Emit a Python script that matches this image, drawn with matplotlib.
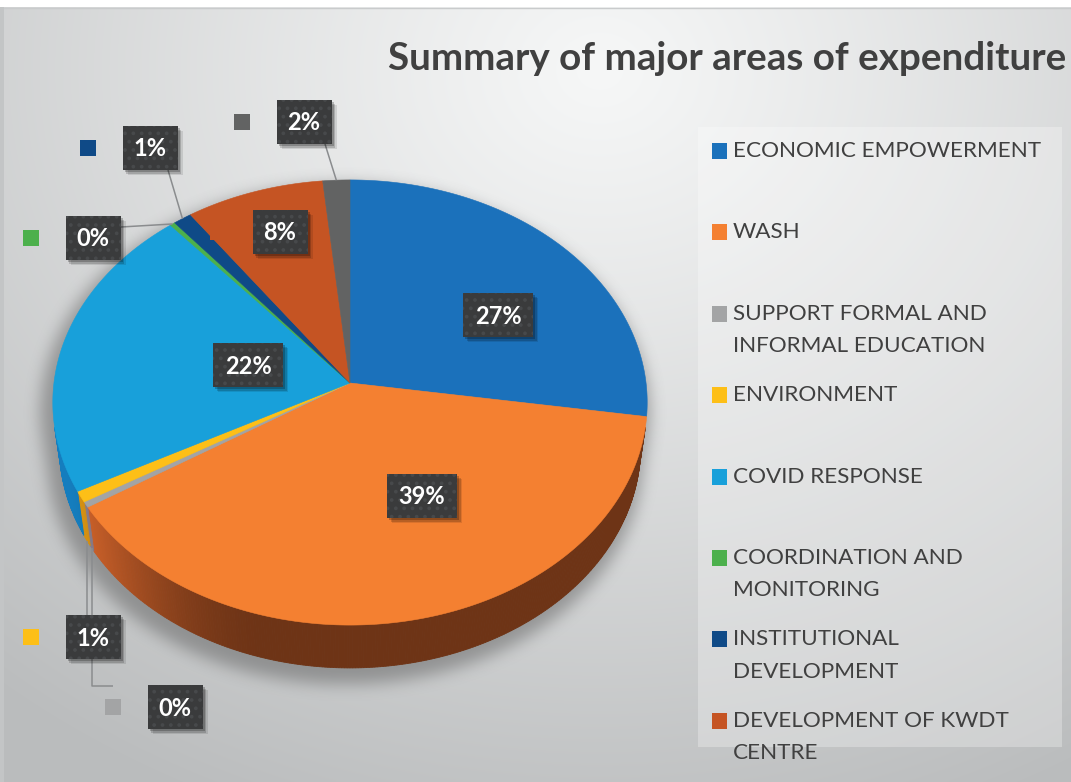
import numpy as np
import matplotlib
matplotlib.use("Agg")
import matplotlib.pyplot as plt
from matplotlib.patches import Polygon, Rectangle
from matplotlib.path import Path
from matplotlib.colors import to_rgb

plt.rcParams['font.family'] = ['Lato', 'DejaVu Sans']
plt.rcParams['hatch.linewidth'] = 1.5

# ---------------------------------------------------------------- data
title = "Summary of major areas of expenditure"
categories = [
    "ECONOMIC EMPOWERMENT",
    "WASH",
    "SUPPORT FORMAL AND\nINFORMAL EDUCATION",
    "ENVIRONMENT",
    "COVID RESPONSE",
    "COORDINATION AND\nMONITORING",
    "INSTITUTIONAL\nDEVELOPMENT",
    "DEVELOPMENT OF KWDT\nCENTRE",
    "OTHER",
]
shares = [27.4, 38.6, 0.4, 0.8, 21.6, 0.3, 1.1, 8.2, 1.6]
colors = ["#1b71bb", "#f48031", "#a3a4a5", "#fdbf17", "#18a0da",
          "#4cb04c", "#0f4a87", "#c55423", "#626363"]
legend_count = 8

# ---------------------------------------------------------------- layout
W, H = 1071, 782
fig = plt.figure(figsize=(W / 100, H / 100), dpi=100)
ax = fig.add_axes([0, 0, 1, 1])
ax.set_xlim(0, W)
ax.set_ylim(H, 0)
ax.axis("off")

# background: soft radial grey gradient
yy, xx = np.mgrid[0:H, 0:W] + 0.5
r = np.hypot((xx - 600) / 1.0, (yy - 70) / 0.85)
t = np.clip(r / 950, 0, 1) ** 1.1
inner = np.array([246, 247, 247]) / 255
outer = np.array([186, 188, 189]) / 255
bg = inner[None, None, :] * (1 - t[..., None]) + outer[None, None, :] * t[..., None]
ax.imshow(bg, extent=(0, W, H, 0), origin="upper", zorder=0, interpolation="bilinear")
ax.add_patch(Rectangle((0, 0), W, 7, facecolor="white", edgecolor="none", zorder=1))
ax.plot([0, W], [7.5, 7.5], color="#c9cbcc", lw=1, zorder=1)
ax.add_patch(Rectangle((0, 7), 4, H, facecolor="#c3c5c6", edgecolor="none", zorder=1))

# ---------------------------------------------------------------- 3D pie projection
CX, CY = 350.0, 383.0
FOC, DIST = 2250.0, 7.6
COSP, SINP = 0.666, 0.746
DEPTH = 0.231


def project(X, Y, Z):
    d = DIST + Y * COSP - Z * SINP
    return CX + FOC * X / d, CY - FOC * (Y * SINP + Z * COSP) / d


def rim(theta_deg, z=0.0, rr=1.0):
    th = np.radians(theta_deg)
    return project(rr * np.sin(th), rr * np.cos(th), z)


bounds = np.concatenate([[0], np.cumsum(shares)]) / np.sum(shares) * 360.0

# soft shadow under the pie
ring = np.linspace(0, 360, 361)
pts = np.array([rim(a, 0.0) for a in ring] + [rim(a, -DEPTH) for a in ring])


def convex_hull(p):
    p = sorted(map(tuple, p))

    def cross(o, a, b):
        return (a[0] - o[0]) * (b[1] - o[1]) - (a[1] - o[1]) * (b[0] - o[0])
    lo, hi = [], []
    for q in p:
        while len(lo) >= 2 and cross(lo[-2], lo[-1], q) <= 0:
            lo.pop()
        lo.append(q)
    for q in reversed(p):
        while len(hi) >= 2 and cross(hi[-2], hi[-1], q) <= 0:
            hi.pop()
        hi.append(q)
    return np.array(lo[:-1] + hi[:-1])


hull = convex_hull(pts)
hc = hull.mean(axis=0)
hull_s = (hull - hc) * 1.025 + hc + np.array([-5, 10])
mask = Path(hull_s).contains_points(np.column_stack([xx.ravel(), yy.ravel()])).reshape(H, W).astype(float)


def blur(a, rad, passes=3):
    k = np.ones(2 * rad + 1) / (2 * rad + 1)
    for _ in range(passes):
        a = np.apply_along_axis(lambda m: np.convolve(m, k, mode="same"), 1, a)
        a = np.apply_along_axis(lambda m: np.convolve(m, k, mode="same"), 0, a)
    return a


sh = blur(mask, 7)
shadow = np.zeros((H, W, 4))
shadow[..., :3] = 0.36
shadow[..., 3] = sh * 0.5
ax.imshow(shadow, extent=(0, W, H, 0), origin="upper", zorder=2, interpolation="bilinear")


def side_factor(th):
    s = np.clip((th - 195.0) / 55.0, 0, 1)
    s = s * s * (3 - 2 * s)
    return 0.45 + 0.42 * s


# visible side wall: where the outward normal faces the camera
vis_lo = np.degrees(np.arccos(-1.0 / (DIST * COSP)))
vis_hi = 360.0 - vis_lo
for i, col in enumerate(colors):
    a, b = bounds[i], bounds[i + 1]
    lo, hi = max(a, vis_lo), min(b, vis_hi)
    if hi <= lo:
        continue
    steps = np.linspace(lo, hi, max(2, int((hi - lo) / 0.5) + 1))
    base = np.array(to_rgb(col))
    for t0, t1 in zip(steps[:-1], steps[1:]):
        f = side_factor(0.5 * (t0 + t1))
        c = np.clip(base * np.array([f, f * 0.9, f]), 0, 1)
        quad = [rim(t0, 0), rim(t1, 0), rim(t1, -DEPTH), rim(t0, -DEPTH)]
        ax.add_patch(Polygon(quad, closed=True, facecolor=c, edgecolor=c, lw=0.6, zorder=3))

# top faces
for i, col in enumerate(colors):
    a, b = bounds[i], bounds[i + 1]
    arc = np.linspace(a, b, max(2, int((b - a) / 0.5) + 1))
    poly = [(CX, CY)] + [rim(t, 0) for t in arc]
    ax.add_patch(Polygon(poly, closed=True, facecolor=col, edgecolor=col, lw=0.4, zorder=4))

# ---------------------------------------------------------------- data labels
label_pos = [(498, 315), (422, 496), (175, 707), (93, 637), (248, 365),
             (93, 238), (150, 148), (280, 232), (304, 122)]
# leader lines: rim level of the start point, then the path to the label
leaders = {
    2: (-DEPTH, [(None, 686), (113, 686)]),
    3: (-DEPTH, [(None, 615)]),
    5: (0.0, [(121, 227)]),
    6: (0.0, [(168, 170)]),
    8: (0.0, [(325, 144)]),
}
for i, (lvl, path) in leaders.items():
    mid = 0.5 * (bounds[i] + bounds[i + 1])
    sx, sy = rim(mid, lvl)
    xs, ys = [sx], [sy]
    for px, py in path:
        xs.append(sx if px is None else px)
        ys.append(py)
    ax.plot(xs, ys, color="#8a8c8e", lw=1.1, zorder=5, solid_capstyle="butt")

total = float(np.sum(shares))
for i, (lx, ly) in enumerate(label_pos):
    txt = f"{round(shares[i] / total * 100)}%"
    bw = 55 if len(txt) == 2 else 70
    bh = 44
    x0, y0 = lx - bw / 2, ly - bh / 2
    # legend key beside the label
    ax.add_patch(Rectangle((lx - 62 - 8, ly - 8), 16, 16, facecolor=colors[i],
                           edgecolor="none", zorder=5 if i in leaders else 4.5))
    for off, al in [(5, 0.10), (3.5, 0.16), (2, 0.22)]:
        ax.add_patch(Rectangle((x0 + off, y0 + off), bw, bh, facecolor="black",
                               edgecolor="none", alpha=al, zorder=6))
    ax.add_patch(Rectangle((x0, y0), bw, bh, facecolor="#3a3b3c", edgecolor="none", zorder=7))
    ax.add_patch(Rectangle((x0, y0), bw, bh, facecolor="none", edgecolor="#47494b",
                           lw=0, hatch="..", zorder=7.5))
    ax.text(lx, ly + 1, txt, color="white", fontsize=17, fontweight="bold",
            ha="center", va="center", zorder=8)

# ---------------------------------------------------------------- title
ax.text(388, 70, title, fontsize=27.8, fontweight="bold", color="#404040",
        ha="left", va="baseline", zorder=8)

# ---------------------------------------------------------------- legend
ax.add_patch(Rectangle((698, 127), 364, 620, facecolor="white", edgecolor="none",
                       alpha=0.28, zorder=5))
for i in range(legend_count):
    base_y = 157 + i * 81.4
    ax.add_patch(Rectangle((712, base_y - 14), 15, 16, facecolor=colors[i],
                           edgecolor="none", zorder=6))
    for j, line in enumerate(categories[i].split("\n")):
        ax.text(733, base_y + j * 32.5, line, fontsize=16.2, color="#404040",
                ha="left", va="baseline", zorder=6)

fig.savefig("out.png", dpi=100)
